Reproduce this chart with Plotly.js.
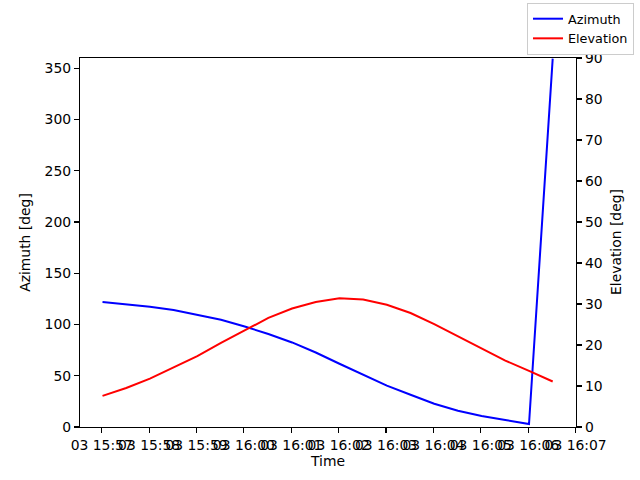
<!DOCTYPE html>
<html>
<head>
<meta charset="utf-8">
<script src="https://cdn.plot.ly/plotly-3.0.1.min.js"></script>
<style>
  body { margin: 0; background: #fff; }
  #chart { width: 640px; height: 480px; }
</style>
</head>
<body>
<div id="chart"></div>
<script>
// samples every 30 s
const times = [
    '2023-06-03 15:57:01', '2023-06-03 15:57:31', '2023-06-03 15:58:01', '2023-06-03 15:58:31',
    '2023-06-03 15:59:01', '2023-06-03 15:59:31', '2023-06-03 16:00:01', '2023-06-03 16:00:31',
    '2023-06-03 16:01:01', '2023-06-03 16:01:31', '2023-06-03 16:02:01', '2023-06-03 16:02:31',
    '2023-06-03 16:03:01', '2023-06-03 16:03:31', '2023-06-03 16:04:01', '2023-06-03 16:04:31',
    '2023-06-03 16:05:01', '2023-06-03 16:05:31', '2023-06-03 16:06:01', '2023-06-03 16:06:31'
];
const azimuth = [121.9, 119.9, 117.3, 114.1, 109.5, 104.6, 98.1, 90.7, 82.5, 72.7,
                 61.7, 50.7, 40.3, 31.5, 22.7, 15.9, 10.7, 6.8, 2.9, 359.4];
const elevation = [7.6, 9.5, 11.8, 14.5, 17.3, 20.5, 23.6, 26.6, 28.9, 30.5,
                   31.4, 31.1, 29.8, 27.8, 25.1, 22.1, 19.1, 16.2, 13.7, 11.1];
const azTicks = [0, 50, 100, 150, 200, 250, 300, 350];
const elTicks = [0, 10, 20, 30, 40, 50, 60, 70, 80, 90];

const font = { family: 'DejaVu Sans, sans-serif', size: 13.9, color: '#000' };

const axisBase = {
    showline: true, linecolor: '#000', linewidth: 1.1,
    ticks: 'outside', ticklen: 5, tickwidth: 1.1, tickcolor: '#000',
    showgrid: false, zeroline: false, tickfont: font, automargin: true
};

const traces = [
    { x: times, y: azimuth, type: 'scatter', mode: 'lines', name: 'Azimuth',
      line: { color: '#0000ff', width: 2 }, yaxis: 'y' },
    { x: times, y: elevation, type: 'scatter', mode: 'lines', name: 'Elevation',
      line: { color: '#ff0000', width: 2 }, yaxis: 'y2' }
];

const layout = {
    width: 640, height: 480,
    paper_bgcolor: '#fff', plot_bgcolor: '#fff',
    // legend sits outside the axes, so keep it from pushing the margins
    margin: { l: 80, r: 64, t: 58, b: 53, autoexpand: false },
    font: font,
    showlegend: true,
    legend: {
        xref: 'container', yref: 'container',
        x: 0.9906, y: 0.994, xanchor: 'right', yanchor: 'top',
        bgcolor: '#fff', bordercolor: '#cccccc', borderwidth: 1,
        font: { ...font, size: 12.8 }, itemwidth: 30, tracegroupgap: 0
    },
    xaxis: {
        ...axisBase, mirror: true, type: 'date', tickangle: 0,
        range: ['2023-06-03 15:56:32.5', '2023-06-03 16:07:00.5'],
        tick0: '2023-06-03 15:57:00', dtick: 60000, tickformat: '%d %H:%M',
        title: { text: 'Time', font: font, standoff: 4 }
    },
    yaxis: {
        ...axisBase, mirror: true, range: [0, 360],
        tickvals: azTicks, ticktext: azTicks.map(String),
        title: { text: 'Azimuth [deg]', font: font, standoff: 10 }
    },
    yaxis2: {
        ...axisBase, overlaying: 'y', side: 'right', range: [0, 90],
        tickvals: elTicks, ticktext: elTicks.map(String)
    },
    // right axis title as an annotation (the axis title lands inside the plot here)
    annotations: [{
        text: 'Elevation [deg]', font: font, textangle: -90,
        xref: 'paper', yref: 'paper', x: 1, y: 0.5, xshift: 39.5,
        xanchor: 'center', yanchor: 'middle', showarrow: false
    }]
};

Plotly.newPlot('chart', traces, layout, { displayModeBar: false, staticPlot: true });
</script>
</body>
</html>
